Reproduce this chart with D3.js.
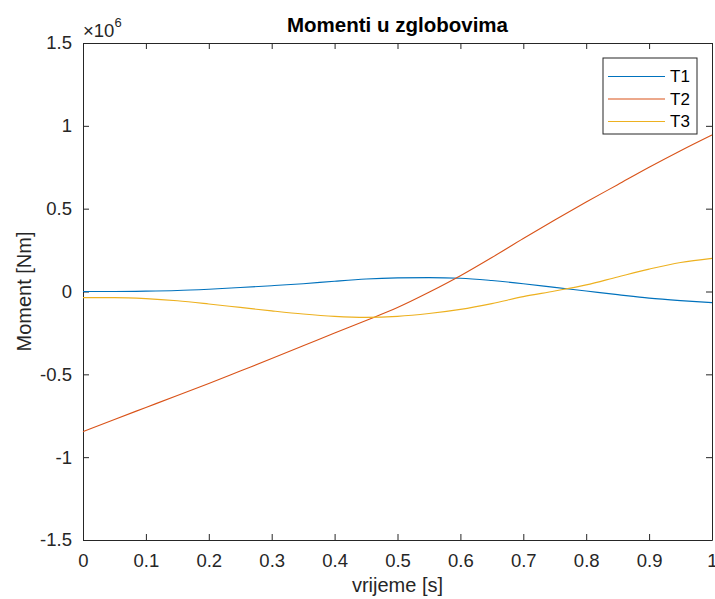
<!DOCTYPE html>
<html>
<head>
<meta charset="utf-8">
<script src="https://cdn.jsdelivr.net/npm/d3@7"></script>
<style>
  html, body { margin: 0; padding: 0; background: #ffffff; }
  svg { display: block; }
  text { font-family: Arial, "Liberation Sans", Helvetica, sans-serif; }
</style>
</head>
<body>
<div id="chart"></div>
<script>
// ---- data (moments in units of 1e6 Nm) ----
const time = [0, 0.05, 0.1, 0.15, 0.2, 0.25, 0.3, 0.35, 0.4, 0.45, 0.5,
              0.55, 0.6, 0.65, 0.7, 0.75, 0.8, 0.85, 0.9, 0.95, 1.0];
const T1 = [0.000, 0.000, 0.002, 0.006, 0.014, 0.024, 0.035, 0.047, 0.062, 0.075, 0.082,
            0.084, 0.080, 0.066, 0.047, 0.025, 0.003, -0.019, -0.040, -0.055, -0.067];
const T2 = [-0.846, -0.772, -0.700, -0.628, -0.555, -0.480, -0.405, -0.328, -0.250, -0.175, -0.097,
            -0.005, 0.095, 0.205, 0.320, 0.432, 0.540, 0.645, 0.750, 0.850, 0.945];
const T3 = [-0.037, -0.037, -0.043, -0.056, -0.075, -0.096, -0.117, -0.136, -0.150, -0.156, -0.150,
            -0.133, -0.108, -0.073, -0.031, 0.003, 0.040, 0.088, 0.135, 0.175, 0.200];
const seriesNames = ["T1", "T2", "T3"];
const seriesColors = ["#0072BD", "#D95319", "#EDB120"];
const xTicks = [0, 0.1, 0.2, 0.3, 0.4, 0.5, 0.6, 0.7, 0.8, 0.9, 1];
const yTicks = [-1.5, -1, -0.5, 0, 0.5, 1, 1.5];
const titleText = "Momenti u zglobovima";
const xLabel = "vrijeme [s]";
const yLabel = "Moment [Nm]";

(function () {
// ---- layout ----
const W = 715, H = 599;
const mLeft = 83, mRight = 712, mTop = 43, mBottom = 540;
const axisColor = "#262626";

const svg = d3.select("#chart").append("svg")
  .attr("width", W).attr("height", H);

const x = d3.scaleLinear().domain([0, 1]).range([mLeft, mRight]);
const y = d3.scaleLinear().domain([-1.5, 1.5]).range([mBottom, mTop]);

const fmt = d => String(d);

// axes (MATLAB style, ticks inward, box on)
const tickLen = 6;
const gx = svg.append("g").attr("transform", `translate(0,${mBottom})`)
  .call(d3.axisBottom(x).tickValues(xTicks).tickFormat(fmt).tickSizeInner(-tickLen).tickSizeOuter(0).tickPadding(14));
const gxTop = svg.append("g").attr("transform", `translate(0,${mTop})`)
  .call(d3.axisTop(x).tickValues(xTicks).tickFormat("").tickSizeInner(-tickLen).tickSizeOuter(0));
const gy = svg.append("g").attr("transform", `translate(${mLeft},0)`)
  .call(d3.axisLeft(y).tickValues(yTicks).tickFormat(fmt).tickSizeInner(-tickLen).tickSizeOuter(0).tickPadding(11));
const gyR = svg.append("g").attr("transform", `translate(${mRight},0)`)
  .call(d3.axisRight(y).tickValues(yTicks).tickFormat("").tickSizeInner(-tickLen).tickSizeOuter(0));

[gx, gxTop, gy, gyR].forEach(g => {
  g.select(".domain").attr("stroke", axisColor).attr("stroke-width", 1);
  g.selectAll(".tick line").attr("stroke", axisColor).attr("stroke-width", 1);
  g.selectAll(".tick text").attr("fill", axisColor).style("font-size", "18.5px")
    .style("font-family", "Arial, 'Liberation Sans', Helvetica, sans-serif");
});

// series lines
const line = d3.line()
  .x((d, i) => x(time[i]))
  .y(d => y(d))
  .curve(d3.curveMonotoneX);

const plot = svg.append("g");
[T1, T2, T3].forEach((s, k) => {
  plot.append("path")
    .datum(s)
    .attr("fill", "none")
    .attr("stroke", seriesColors[k])
    .attr("stroke-width", 1.1)
    .attr("d", line);
});

// exponent label
const ex = svg.append("text").attr("x", mLeft).attr("y", 37).attr("fill", axisColor)
  .style("font-size", "18.5px");
ex.append("tspan").text("\u00D710");
ex.append("tspan").attr("dy", -10).style("font-size", "13px").text("6");

// title
svg.append("text").attr("x", (mLeft + mRight) / 2).attr("y", 32)
  .attr("text-anchor", "middle").attr("fill", "#000")
  .style("font-size", "20.5px").style("font-weight", "bold")
  .text(titleText);

// axis labels
svg.append("text").attr("x", (mLeft + mRight) / 2).attr("y", 592)
  .attr("text-anchor", "middle").attr("fill", axisColor)
  .style("font-size", "20px").text(xLabel);
svg.append("text")
  .attr("transform", `translate(31,${(mTop + mBottom) / 2}) rotate(-90)`)
  .attr("text-anchor", "middle").attr("fill", axisColor)
  .style("font-size", "20px").text(yLabel);

// legend
const lg = svg.append("g");
lg.append("rect").attr("x", 603).attr("y", 58).attr("width", 94).attr("height", 76)
  .attr("fill", "#fff").attr("stroke", axisColor).attr("stroke-width", 1);
const rowY = [76.5, 99, 121.5];
seriesNames.forEach((n, k) => {
  lg.append("line").attr("x1", 608).attr("x2", 665).attr("y1", rowY[k]).attr("y2", rowY[k])
    .attr("stroke", seriesColors[k]).attr("stroke-width", 1.1);
  lg.append("text").attr("x", 670).attr("y", rowY[k]).attr("dy", "0.35em")
    .attr("fill", "#000").style("font-size", "17px").text(n);
});
})();
</script>
</body>
</html>
